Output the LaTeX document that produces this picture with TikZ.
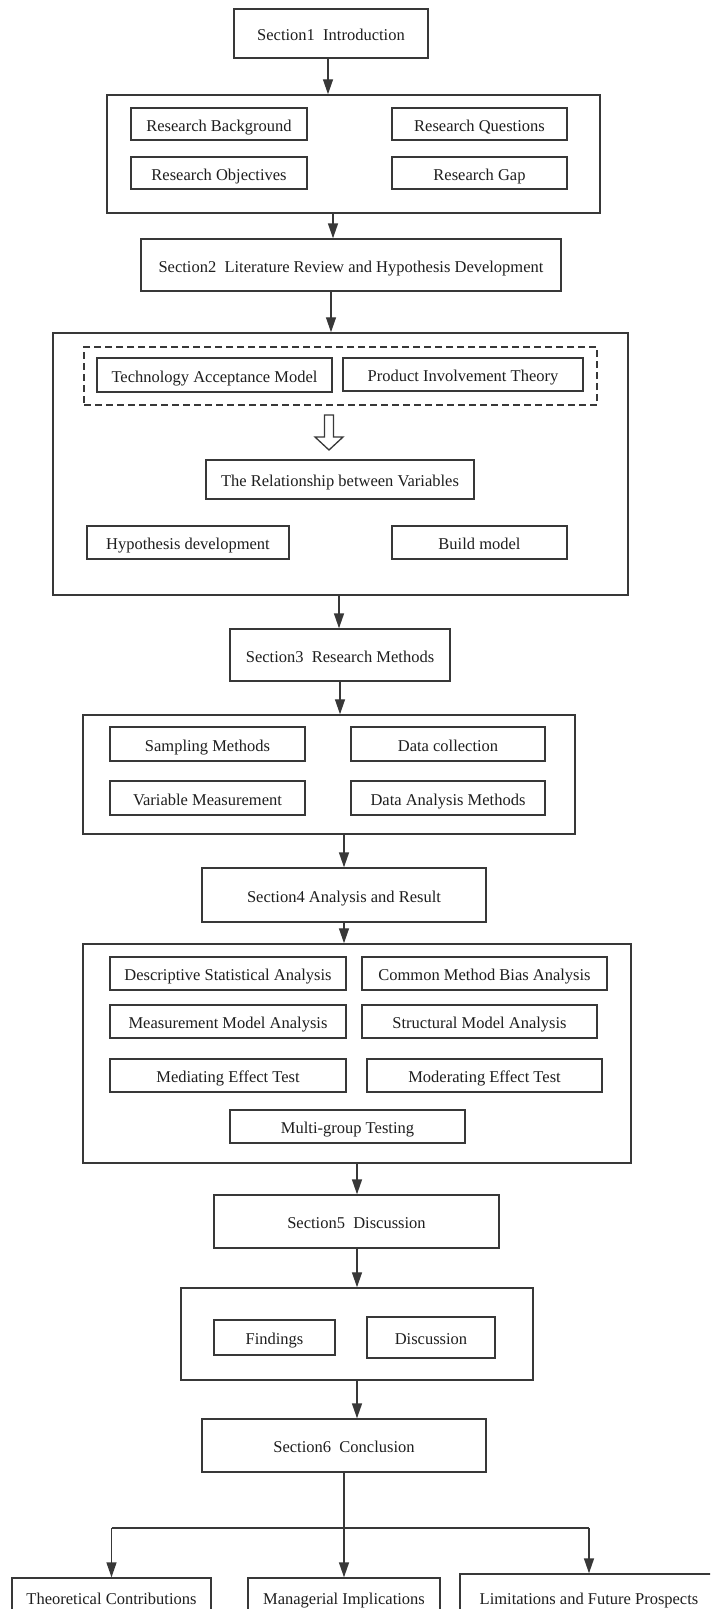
\documentclass[tikz,border=0pt]{standalone}
\usepackage{fontspec}
\setmainfont{Liberation Serif}
\usetikzlibrary{arrows.meta}
\definecolor{linec}{HTML}{383838}
\definecolor{txtc}{HTML}{1E1E1E}
\begin{document}
\begin{tikzpicture}[x=1pt,y=-1pt,
  bx/.style={draw=linec, line width=1.4pt, rectangle, inner sep=0pt, text=txtc,
    text height=15pt, text depth=1pt,
    font=\fontsize{16.5}{18}\selectfont},
  outer/.style={draw=linec, line width=1.5pt, rectangle, inner sep=0pt},
  arr/.style={-{Triangle[length=15pt,width=10pt]}, line width=1.4pt, draw=linec},
  ln/.style={line width=1.4pt, draw=linec}]
\clip (0,0) rectangle (710,1609);
\fill[white] (0,0) rectangle (710,1609);

% Section 1
\node[bx, minimum width=194pt, minimum height=49pt] (s1) at (331,33.5) {Section1~ Introduction};
\node[outer, minimum width=493pt, minimum height=118pt] (b1) at (353.5,154) {};
\node[bx, minimum width=176pt, minimum height=32pt] (rb) at (219,124) {Research Background};
\node[bx, minimum width=175pt, minimum height=32pt] (rq) at (479.5,124) {Research Questions};
\node[bx, minimum width=176pt, minimum height=32pt] (ro) at (219,173) {Research Objectives};
\node[bx, minimum width=175pt, minimum height=32pt] (rg) at (479.5,173) {Research Gap};

% Section 2
\node[bx, minimum width=420pt, minimum height=52pt] (s2) at (351,265) {Section2~ Literature Review and Hypothesis Development};
\node[outer, minimum width=575pt, minimum height=262pt] (b2) at (340.5,464) {};
\node[draw=linec, line width=1.6pt, dash pattern=on 7pt off 4pt, rectangle, inner sep=0pt,
  minimum width=513pt, minimum height=58pt] (dsh) at (340.5,376) {};
\node[bx, minimum width=235pt, minimum height=34pt] (tam) at (214.5,375) {Technology Acceptance Model};
\node[bx, minimum width=240pt, minimum height=33pt] (pit) at (463,374.5) {Product Involvement Theory};
\node[bx, minimum width=268pt, minimum height=39pt] (rel) at (340,479.5) {The Relationship between Variables};
\node[bx, minimum width=202pt, minimum height=33pt] (hyp) at (188,542.5) {Hypothesis development};
\node[bx, minimum width=175pt, minimum height=33pt] (bm) at (479.5,542.5) {Build model};
\draw[line width=1.3pt, draw=linec, fill=white]
  (324.5,415) -- (333.5,415) -- (333.5,437) -- (343,437) -- (329,450) -- (315,437) -- (324.5,437) -- cycle;

% Section 3
\node[bx, minimum width=220pt, minimum height=52pt] (s3) at (340,655) {Section3~ Research Methods};
\node[outer, minimum width=492pt, minimum height=119pt] (b3) at (329,774.5) {};
\node[bx, minimum width=195pt, minimum height=34pt] (sm) at (207.5,744) {Sampling Methods};
\node[bx, minimum width=194pt, minimum height=34pt] (dc) at (448,744) {Data collection};
\node[bx, minimum width=195pt, minimum height=34pt] (vm) at (207.5,798) {Variable Measurement};
\node[bx, minimum width=194pt, minimum height=34pt] (dam) at (448,798) {Data Analysis Methods};

% Section 4
\node[bx, minimum width=284pt, minimum height=54pt] (s4) at (344,895) {Section4 Analysis and Result};
\node[outer, minimum width=548pt, minimum height=219pt] (b4) at (357,1053.5) {};
\node[bx, minimum width=236pt, minimum height=33pt] (dsa) at (228,973.5) {Descriptive Statistical Analysis};
\node[bx, minimum width=245pt, minimum height=33pt] (cmb) at (484.5,973.5) {Common Method Bias Analysis};
\node[bx, minimum width=236pt, minimum height=33pt] (mma) at (228,1021.5) {Measurement Model Analysis};
\node[bx, minimum width=235pt, minimum height=33pt] (sma) at (479.5,1021.5) {Structural Model Analysis};
\node[bx, minimum width=236pt, minimum height=33pt] (med) at (228,1075.5) {Mediating Effect Test};
\node[bx, minimum width=235pt, minimum height=33pt] (mod) at (484.5,1075.5) {Moderating Effect Test};
\node[bx, minimum width=235pt, minimum height=33pt] (mgt) at (347.5,1126.5) {Multi-group Testing};

% Section 5
\node[bx, minimum width=285pt, minimum height=53pt] (s5) at (356.5,1221.5) {Section5~ Discussion};
\node[outer, minimum width=352pt, minimum height=92pt] (b5) at (357,1334) {};
\node[bx, minimum width=121pt, minimum height=35pt] (fi) at (274.5,1337.5) {Findings};
\node[bx, minimum width=128pt, minimum height=41pt] (di) at (431,1337.5) {Discussion};

% Section 6
\node[bx, minimum width=284pt, minimum height=53pt] (s6) at (344,1445.5) {Section6~ Conclusion};
\node[bx, minimum width=199pt, minimum height=38pt] (tc) at (111.5,1597) {Theoretical Contributions};
\node[bx, minimum width=192pt, minimum height=38pt] (mi) at (344,1597) {Managerial Implications};
\node[bx, minimum width=258pt, minimum height=46pt] (lf) at (589,1597) {Limitations and Future Prospects};
\coordinate (jn) at (344,1528);

% connectors
\draw[arr] (s1.south -| 328,0) -- (b1.north -| 328,0);
\draw[arr] (b1.south -| 333,0) -- (s2.north -| 333,0);
\draw[arr] (s2.south -| 331,0) -- (b2.north -| 331,0);
\draw[arr] (b2.south -| 339,0) -- (s3.north -| 339,0);
\draw[arr] (s3.south -| 340,0) -- (b3.north -| 340,0);
\draw[arr] (b3.south -| 344,0) -- (s4.north -| 344,0);
\draw[arr] (s4.south -| 344,0) -- (b4.north -| 344,0);
\draw[arr] (b4.south -| 357,0) -- (s5.north -| 357,0);
\draw[arr] (s5.south -| 357,0) -- (b5.north -| 357,0);
\draw[arr] (b5.south -| 357,0) -- (s6.north -| 357,0);
\draw[arr] (s6.south) -- (mi.north);
\draw[ln] (jn -| tc.north) -- (jn -| lf.north);
\draw[arr] (jn -| tc.north) -- (tc.north);
\draw[arr] (jn -| lf.north) -- (lf.north);
\end{tikzpicture}
\end{document}
